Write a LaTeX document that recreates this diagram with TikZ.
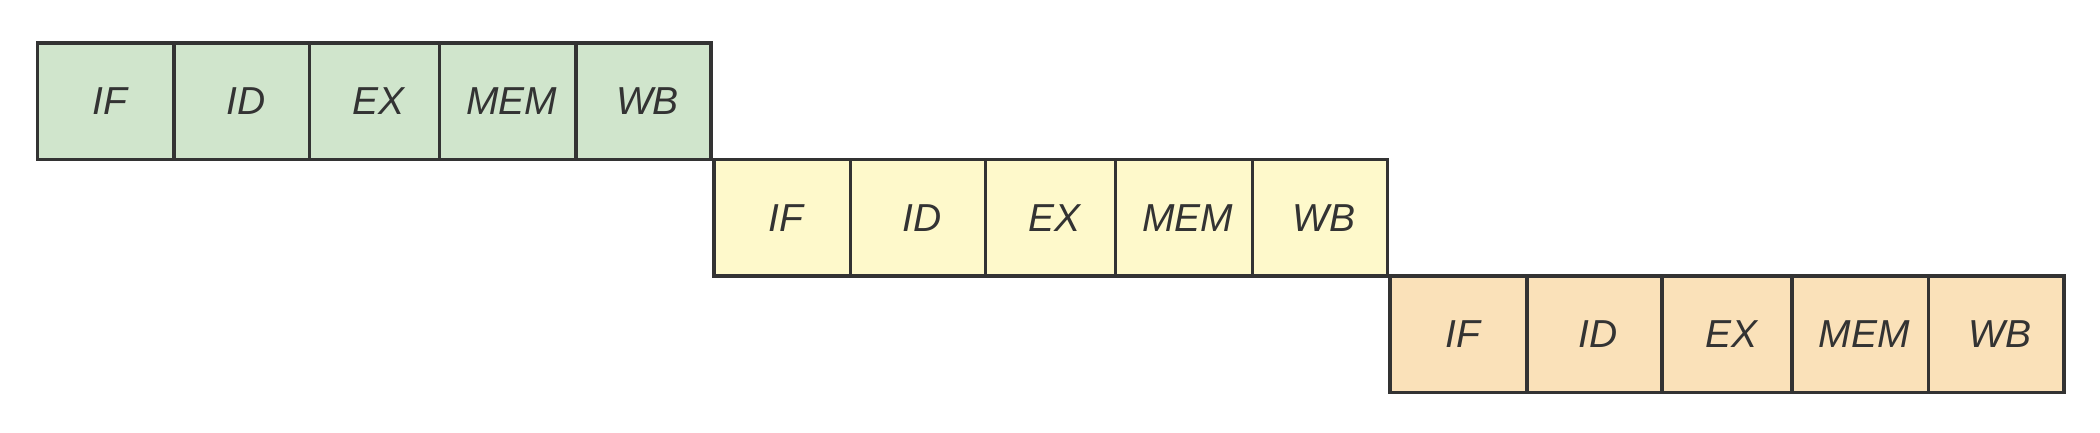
\documentclass[tikz,border=0pt]{standalone}
\usepackage{fontspec}
\setmainfont{Liberation Sans}
\definecolor{inkgray}{HTML}{333333}
\definecolor{stagegreen}{HTML}{D0E5CC}
\definecolor{stageyellow}{HTML}{FEF9CB}
\definecolor{stageorange}{HTML}{FAE1B9}
\tikzset{
  stage/.style={draw=inkgray, line width=1.7pt, inner sep=0pt, outer sep=0pt,
    minimum height=58.25pt, text=inkgray, font=\fontsize{19.5}{23}\selectfont\itshape,
    execute at begin node=\hspace{4pt}},
  wide/.style={stage, minimum width=68.3pt},
  mid/.style={stage, minimum width=67.6pt},
  narrow/.style={stage, minimum width=64.95pt},
}
\begin{document}
\begin{tikzpicture}[x=0.6696pt,y=-0.6696pt]
\useasboundingbox (0,0) rectangle (1568,322.6);
% first instruction
\node[wide,fill=stagegreen] (if1) at (79,75.5) {IF};
\node[mid,fill=stagegreen] (id1) at (180.5,75.5) {ID};
\node[narrow,fill=stagegreen] (ex1) at (279.5,75.5) {EX};
\node[wide,fill=stagegreen] (mem1) at (379,75.5) {MEM};
\node[mid,fill=stagegreen] (wb1) at (480.5,75.5) {WB};
% second instruction
\node[wide,fill=stageyellow] (if2) at (584,162.5) {IF};
\node[mid,fill=stageyellow] (id2) at (685.5,162.5) {ID};
\node[narrow,fill=stageyellow] (ex2) at (784.5,162.5) {EX};
\node[wide,fill=stageyellow] (mem2) at (884,162.5) {MEM};
\node[mid,fill=stageyellow] (wb2) at (985.5,162.5) {WB};
% third instruction
\node[wide,fill=stageorange] (if3) at (1089,249.5) {IF};
\node[mid,fill=stageorange] (id3) at (1190.5,249.5) {ID};
\node[narrow,fill=stageorange] (ex3) at (1289.5,249.5) {EX};
\node[wide,fill=stageorange] (mem3) at (1389,249.5) {MEM};
\node[mid,fill=stageorange] (wb3) at (1490.5,249.5) {WB};
\end{tikzpicture}
\end{document}
